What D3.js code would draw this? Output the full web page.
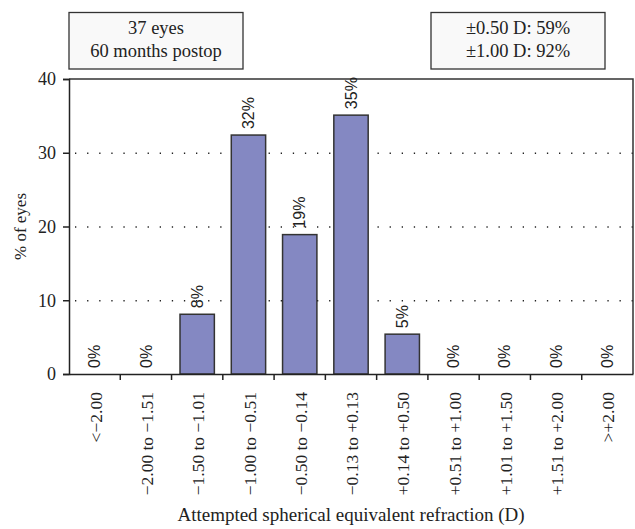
<!DOCTYPE html>
<html><head><meta charset="utf-8">
<script src="https://cdn.jsdelivr.net/npm/d3@7"></script>
<style>body{margin:0;background:#fff}svg{display:block}</style>
</head><body><svg id="c" width="635" height="529"></svg>
<script>
const categories = ["<\u22122.00","\u22122.00 to \u22121.51","\u22121.50 to \u22121.01","\u22121.00 to \u22120.51","\u22120.50 to \u22120.14","\u22120.13 to +0.13","+0.14 to +0.50","+0.51 to +1.00","+1.01 to +1.50","+1.51 to +2.00",">+2.00"];
const values = [0, 0, 8.1, 32.4, 18.9, 35.1, 5.4, 0, 0, 0, 0];
const valueLabels = ["0%","0%","8%","32%","19%","35%","5%","0%","0%","0%","0%"];
const yTicks = [0, 10, 20, 30, 40];
const gridTicks = [10, 20, 30];
const leftBoxLines = ["37 eyes", "60 months postop"];
const rightBoxLines = ["\u00b10.50 D: 59%", "\u00b11.00 D: 92%"];

const svg = d3.select("#c");
const m = {l: 69, r: 633, t: 79, b: 374};
const serif = "'Liberation Serif', 'DejaVu Serif', serif";
const sans = "'Liberation Sans', 'DejaVu Sans', sans-serif";

const x = d3.scaleBand().domain(categories).range([m.l, m.r]).paddingInner(0.33).paddingOuter(0.165);
const y = d3.scaleLinear().domain([0, 40]).range([m.b, m.t]);

// grid
svg.append("g").selectAll("line").data(gridTicks).join("line")
  .attr("x1", m.l + 6).attr("x2", m.r).attr("y1", d => y(d) + 0.5).attr("y2", d => y(d) + 0.5)
  .attr("stroke", "#222").attr("stroke-width", 1.3).attr("stroke-dasharray", "1.3,10.8");

// frame top/right
svg.append("path").attr("d", `M${m.l},${m.t}H${m.r}V${m.b}`).attr("fill", "none").attr("stroke", "#333").attr("stroke-width", 1.5);

const rows = values.map((v, i) => ({v, c: categories[i], l: valueLabels[i]}));

// bars
svg.append("g").selectAll("rect").data(rows.filter(d => d.v > 0)).join("rect")
  .attr("x", d => x(d.c)).attr("width", x.bandwidth())
  .attr("y", d => y(d.v)).attr("height", d => y(0) - y(d.v))
  .attr("fill", "#8488c2").attr("stroke", "#333").attr("stroke-width", 1.5);

// value labels
svg.append("g").selectAll("text").data(rows).join("text")
  .attr("transform", d => `translate(${x(d.c) + x.bandwidth() / 2},${y(d.v) - 6}) rotate(-90)`)
  .attr("dy", "0.35em").attr("text-anchor", "start")
  .attr("font-family", sans).attr("font-size", 16).attr("fill", "#222")
  .text(d => d.l);

// y axis
const ya = svg.append("g").attr("transform", `translate(${m.l},0)`)
  .call(d3.axisLeft(y).tickValues(yTicks).tickSize(6).tickPadding(7).tickFormat(d3.format("d")));
ya.select(".domain").attr("stroke", "#222").attr("stroke-width", 1.5);
ya.selectAll(".tick line").attr("stroke", "#222").attr("stroke-width", 1.5);
ya.selectAll(".tick text").attr("font-family", serif).attr("font-size", 18).attr("fill", "#222");

// x axis
const xb = d3.scaleBand().domain(categories).range([m.l, m.r]);
const xa = svg.append("g").attr("transform", `translate(0,${m.b})`)
  .call(d3.axisBottom(xb).tickSize(0).tickPadding(0));
xa.select(".domain").attr("stroke", "#222").attr("stroke-width", 1.5);
xa.selectAll(".tick text")
  .attr("font-family", serif).attr("font-size", 17.5).attr("fill", "#222")
  .attr("text-anchor", "end").attr("transform", "translate(1,18) rotate(-90)").attr("x", 0).attr("y", 0).attr("dy", "0.35em");
// category boundary ticks
svg.append("g").selectAll("line").data(categories.slice(1)).join("line")
  .attr("x1", d => xb(d)).attr("x2", d => xb(d)).attr("y1", m.b).attr("y2", m.b + 6)
  .attr("stroke", "#222").attr("stroke-width", 1.5);

// axis titles
svg.append("text").attr("x", (m.l + m.r) / 2).attr("y", 521).attr("text-anchor", "middle")
  .attr("font-family", serif).attr("font-size", 19).attr("fill", "#222")
  .text("Attempted spherical equivalent refraction (D)");
svg.append("text").attr("transform", `translate(20,${(m.t + m.b) / 2}) rotate(-90)`).attr("text-anchor", "middle")
  .attr("font-family", serif).attr("font-size", 17).attr("fill", "#222").attr("dy", "0.35em")
  .text("% of eyes");

// boxes
function box(x0, x1, lines) {
  svg.append("rect").attr("x", x0).attr("y", 12.5).attr("width", x1 - x0).attr("height", 56.5)
    .attr("fill", "#f9f9f9").attr("stroke", "#333").attr("stroke-width", 1.3);
  svg.append("g").selectAll("text").data(lines).join("text")
    .attr("x", (x0 + x1) / 2).attr("y", (d, i) => 34 + i * 23).attr("text-anchor", "middle")
    .attr("font-family", serif).attr("font-size", 18.5).attr("fill", "#222").text(d => d);
}
box(69, 243, leftBoxLines);
box(431, 605, rightBoxLines);
</script></body></html>
